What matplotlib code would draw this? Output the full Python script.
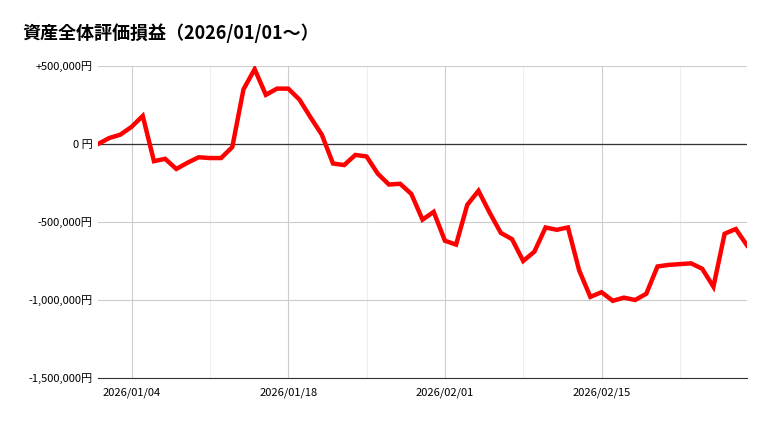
import numpy as np
import matplotlib.pyplot as plt
import matplotlib.dates as mdates
import pandas as pd

plt.rcParams['font.family'] = ['Noto Sans CJK JP', 'DejaVu Sans']

dates = pd.date_range('2026-01-01', '2026-02-28', freq='D')
values = [0, 38000, 60000, 110000, 180000, -110000, -95000, -160000, -120000, -85000,
          -90000, -90000, -20000, 350000, 480000, 315000, 355000, 355000, 285000, 170000,
          60000, -125000, -135000, -70000, -80000, -190000, -260000, -255000, -320000, -485000,
          -435000, -620000, -645000, -390000, -300000, -440000, -570000, -610000, -750000, -690000,
          -535000, -550000, -535000, -810000, -980000, -950000, -1005000, -985000, -1000000, -960000,
          -785000, -775000, -770000, -765000, -800000, -915000, -575000, -545000, -650000]
ytick_vals = [500000, 0, -500000, -1000000, -1500000]
ytick_labels = ['+500,000円', '0 円', '-500,000円', '-1,000,000円', '-1,500,000円']
xtick_dates = pd.to_datetime(['2026-01-04', '2026-01-18', '2026-02-01', '2026-02-15'])

fig = plt.figure(figsize=(7.69, 4.21), dpi=100)
ax = fig.add_axes([98/769, 1 - 378/421, (747-98)/769, (378-66)/421])

ax.plot(dates, values, color='#ff0000', lw=3.2, solid_joinstyle='miter', zorder=3)
ax.axhline(0, color='#333333', lw=0.9, zorder=2)

ax.set_xlim(dates[0], dates[-1])
ax.set_ylim(-1500000, 500000)
ax.set_yticks(ytick_vals)
ax.set_yticklabels(ytick_labels, fontsize=8)
ax.set_xticks(xtick_dates)
ax.set_xticklabels([d.strftime('%Y/%m/%d') for d in xtick_dates], fontsize=8)
ax.set_xticks(pd.to_datetime(['2026-01-11', '2026-01-25', '2026-02-08', '2026-02-22']), minor=True)
ax.tick_params(length=0, which='both', pad=4)
ax.tick_params(axis='x', pad=7)
ax.grid(True, which='major', color='#cccccc', lw=0.8)
ax.grid(True, which='minor', axis='x', color='#eeeeee', lw=0.8)
for s in ['top', 'right', 'left']:
    ax.spines[s].set_visible(False)
ax.spines['bottom'].set_color('#333333')

fig.text(22/769, 1 - 33/421, '資産全体評価損益（2026/01/01～）', fontsize=13,
         fontweight='bold', style='italic', va='center')

fig.savefig('out.png')
